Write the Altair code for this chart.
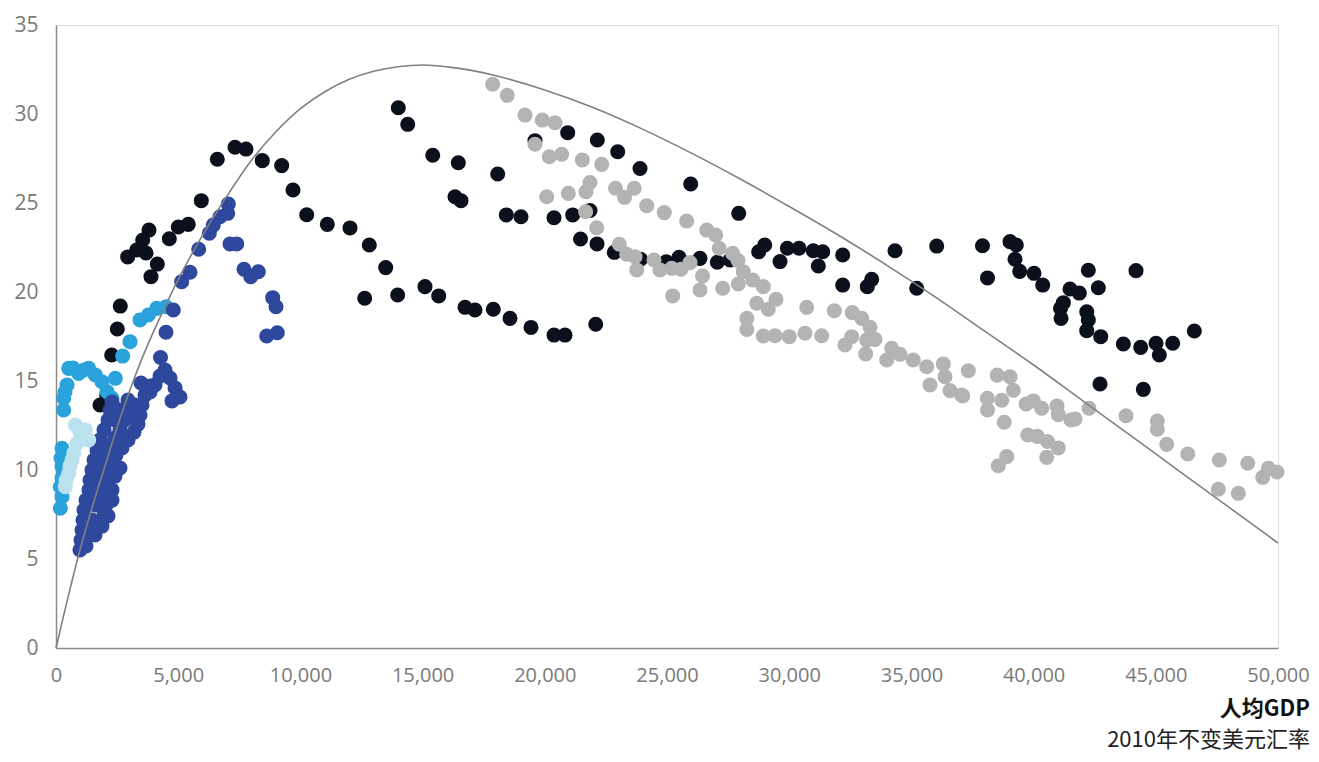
import altair as alt
import pandas as pd

# ---- data ----
black_x = [2279, 1800, 2075, 2508, 2631, 3887, 4145, 2934, 3302, 3683, 3547, 3805, 4636, 5004, 5413, 5945,
           6600, 7324, 7774, 8441, 9235, 9697, 10258, 11101, 12030, 12819, 13490, 12631, 13981, 15098, 15659,
           16735, 17144, 17893, 18576, 19435, 20377, 20827, 22083, 14006, 14391, 15414, 16461, 16326, 16571,
           18073, 18425, 19026, 20377, 21142, 21850, 20937, 22149, 22983, 23896, 25970, 27934, 19599, 21462,
           22137, 22844, 23916, 24971, 25491, 26350, 27058, 27578, 28752, 28998, 29624, 29923, 30402, 30986,
           31371, 31191, 32189, 32189, 33196, 33376, 34329, 35217, 36035, 37909, 38114, 39035, 39293, 39239,
           39431, 40017, 40373, 42239, 44190, 41490, 41871, 42649, 41218, 41101, 41122, 42174, 42239, 42174,
           42746, 43671, 44382, 45009, 45144, 45692, 46576, 42717, 44489]
black_y = [16.46, 13.65, 14.21, 17.92, 19.21, 20.86, 21.57, 21.97, 22.36, 22.19, 22.92, 23.48, 22.99, 23.65,
           23.80, 25.13, 27.46, 28.13, 28.03, 27.38, 27.10, 25.73, 24.34, 23.80, 23.60, 22.64, 21.37, 19.65,
           19.83, 20.30, 19.78, 19.14, 18.99, 19.03, 18.52, 18.01, 17.58, 17.58, 18.19, 30.35, 29.42, 27.68,
           27.26, 25.35, 25.13, 26.63, 24.33, 24.23, 24.17, 24.33, 24.58, 28.95, 28.54, 27.88, 26.94, 26.07,
           24.42, 28.50, 22.98, 22.70, 22.23, 21.84, 21.70, 21.95, 21.89, 21.67, 21.80, 22.26, 22.64, 21.71,
           22.46, 22.46, 22.32, 22.26, 21.46, 22.08, 20.39, 20.30, 20.71, 22.32, 20.21, 22.58, 22.60, 20.79,
           22.83, 22.64, 21.84, 21.16, 21.05, 20.39, 21.22, 21.20, 20.17, 19.94, 20.24, 19.40, 19.08, 18.52,
           18.89, 18.43, 17.83, 17.49, 17.08, 16.89, 17.12, 16.46, 17.12, 17.81, 14.83, 14.53]

grey_x = [17866, 18466, 19190, 19898, 20418, 19599, 20184, 20692, 21535, 22329, 21850, 21686, 20078, 20962,
          22893, 23658, 23261, 24169, 24890, 25806, 26625, 26993, 27136, 27688, 27905, 28122, 27918, 21672,
          22124, 23049, 23352, 23691, 23761, 24468, 24714, 25192, 25573, 25941, 26453, 26350, 25233, 27278,
          28266, 28266, 28506, 28940, 29460, 28670, 29145, 28940, 29419, 30004, 30647, 31330, 30716, 31845,
          32582, 32967, 33306, 32557, 32283, 33171, 33511, 33130, 34193, 34534, 33989, 35078, 35626, 36305,
          36375, 35761, 36579, 37099, 37329, 38511, 39035, 39170, 37058, 38106, 38696, 38114, 38798, 39690,
          39989, 40332, 40958, 41011, 41531, 41695, 42268, 43781, 45062, 45062, 45447, 46306, 47599, 48761,
          49604, 49375, 49960, 47558, 48377, 39763, 40152, 40569, 41011, 40536, 38899, 38556]
grey_y = [31.67, 31.05, 29.94, 29.66, 29.51, 28.30, 27.60, 27.74, 27.42, 27.17, 26.15, 25.63, 25.35, 25.54,
          25.83, 25.83, 25.32, 24.85, 24.46, 23.99, 23.48, 23.20, 22.46, 22.17, 21.77, 21.14, 20.45, 24.51,
          23.61, 22.68, 22.12, 21.98, 21.24, 21.80, 21.24, 21.33, 21.28, 21.65, 20.90, 20.11, 19.78, 20.21,
          18.52, 17.90, 20.67, 20.30, 19.59, 19.37, 19.03, 17.53, 17.54, 17.49, 17.68, 17.54, 19.14, 18.95,
          18.84, 18.52, 18.02, 17.49, 17.02, 17.30, 17.34, 16.52, 16.84, 16.50, 16.18, 16.18, 15.80, 15.96,
          15.24, 14.78, 14.46, 14.16, 15.58, 15.33, 15.24, 14.48, 14.21, 14.03, 13.92, 13.37, 12.68, 13.71,
          13.88, 13.47, 13.60, 13.11, 12.81, 12.87, 13.47, 13.05, 12.75, 12.29, 11.44, 10.90, 10.56, 10.38,
          10.10, 9.59, 9.89, 8.92, 8.69, 11.97, 11.89, 11.60, 11.24, 10.71, 10.75, 10.24]

mid_x = [520, 1338, 1608, 1882, 2087, 2292, 2427, 450, 315, 315, 929, 246, 246, 176, 246, 176, 2729, 3028,
         3437, 3777, 4120, 4501, 696, 1146, 368, 246, 205]
mid_y = [15.71, 15.71, 15.34, 14.96, 14.40, 14.03, 15.15, 14.78, 14.03, 13.37, 15.43, 11.22, 10.19, 9.06,
         8.50, 7.85, 16.40, 17.21, 18.43, 18.71, 19.08, 19.17, 15.73, 15.62, 14.38, 9.55, 10.67]

dark_x = [4276, 4501, 4800, 5143, 5483, 5839, 6273, 6436, 6710, 7025, 7050, 7120, 7394, 7692, 7967, 8278,
          8867, 9002, 8621, 9055,
          982, 1023, 1064, 1105, 1146, 1228, 1350, 1391, 1473, 1555, 1678, 1800, 1964, 2128, 2210, 2292,
          1596, 1800, 1964, 2046, 2046, 1964, 2046, 2210, 2455, 2701, 2946, 3192, 3355, 3437, 3519, 3642,
          3846, 4051, 4460, 4665, 4870, 5074, 4747, 1473, 1637, 1719, 1800, 1882, 2005, 2210, 2414, 2619,
          2823, 3028, 3233, 2946, 2619, 2414, 2619, 2414, 2292, 2292, 2128, 1882, 1473, 1228, 4256, 3846, 3478]
dark_y = [16.32, 17.74, 18.99, 20.58, 21.11, 22.40, 23.30, 23.76, 24.23, 24.42, 24.94, 22.70, 22.70, 21.28,
          20.86, 21.14, 19.68, 19.17, 17.53, 17.71,
          5.51, 6.07, 6.63, 7.19, 7.75, 8.31, 8.88, 9.44, 10.00, 10.56, 11.12, 11.69, 12.25, 12.81, 13.37,
          13.82, 6.35, 6.91, 7.47, 8.03, 8.60, 9.16, 9.72, 10.28, 10.84, 11.24, 11.69, 12.13, 12.58, 13.09,
          13.65, 14.21, 14.38, 14.78, 15.62, 15.17, 14.61, 14.10, 13.88, 7.19, 8.03, 8.76, 9.44, 10.11, 10.84,
          11.40, 11.80, 12.25, 12.81, 13.26, 13.65, 13.93, 13.37, 12.81, 10.11, 9.66, 8.88, 8.31, 7.42, 6.85,
          6.46, 5.73, 15.28, 14.72, 14.89]

light_x = [790, 1199, 1338, 859, 655, 520, 381, 724, 1133, 982, 573, 409]
light_y = [12.53, 12.25, 11.69, 11.50, 10.56, 9.81, 9.06, 10.94, 11.87, 12.13, 10.22, 9.44]

curve_x = [0, 500, 1000, 1500, 2000, 2500, 3000, 3500, 4000, 5000, 6000, 7000, 8000, 9000, 10000, 11000,
           12000, 13000, 14000, 15000, 16000, 17000, 18000, 20000, 22000, 24000, 26000, 28000, 30000, 32000,
           34000, 36000, 38000, 40000, 42000, 44000, 46000, 48000, 50000]
curve_y = [0, 2.9, 5.6, 8.0, 10.2, 12.4, 14.4, 16.2, 17.8, 20.7, 23.2, 25.4, 27.4, 29.0, 30.3, 31.25,
           31.95, 32.4, 32.65, 32.75, 32.65, 32.45, 32.15, 31.35, 30.35, 29.15, 27.8, 26.35, 24.8, 23.2,
           21.5, 19.7, 17.8, 15.9, 13.9, 11.9, 9.9, 7.9, 5.9]

series_names = ["s1", "s2", "s3", "s4", "s5"]
series_colors = ["#0b101c", "#b3b3b3", "#2aa3dc", "#2d489d", "#b9e1ee"]
x_ticks = [0, 5000, 10000, 15000, 20000, 25000, 30000, 35000, 40000, 45000, 50000]
y_ticks = [0, 5, 10, 15, 20, 25, 30, 35]
title_lines = ["人均GDP", "2010年不变美元汇率"]

frames = []
for name, xs, ys in zip(series_names,
                        [black_x, grey_x, mid_x, dark_x, light_x],
                        [black_y, grey_y, mid_y, dark_y, light_y]):
    frames.append(pd.DataFrame({"gdp": xs, "rate": ys, "series": name}))
points = pd.concat(frames, ignore_index=True)
points["order"] = range(len(points))
curve = pd.DataFrame({"gdp": curve_x, "rate": curve_y})

FONT = "Open Sans"
x_scale = alt.Scale(domain=[0, 50000], nice=False)
y_scale = alt.Scale(domain=[0, 35], nice=False)

x_axis = alt.Axis(values=x_ticks, format=",d", title=None, grid=False, ticks=False, tickSize=0,
                  labelFont=FONT, labelFontSize=20, labelColor="#7a7a7a", labelPadding=17,
                  domainColor="#8a8a8a", domainWidth=1.5, labelFlush=False)
y_axis = alt.Axis(values=y_ticks, title=None, grid=False, ticks=False, tickSize=0,
                  labelFont=FONT, labelFontSize=21, labelColor="#7a7a7a", labelPadding=18,
                  domainColor="#8a8a8a", domainWidth=1.5, labelFlush=False)

pts = alt.Chart(points).mark_circle(size=227, opacity=1).encode(
    x=alt.X("gdp:Q", scale=x_scale, axis=x_axis),
    y=alt.Y("rate:Q", scale=y_scale, axis=y_axis),
    color=alt.Color("series:N", scale=alt.Scale(domain=series_names, range=series_colors), legend=None),
    order=alt.Order("order:Q"),
)

line = alt.Chart(curve).mark_line(color="#808080", strokeWidth=1.6, interpolate="catmull-rom").encode(
    x=alt.X("gdp:Q", scale=x_scale),
    y=alt.Y("rate:Q", scale=y_scale),
)

t1 = alt.Chart(pd.DataFrame({"t": [title_lines[0]]})).mark_text(
    align="right", baseline="middle", font="Noto Sans CJK SC", fontSize=22, fontWeight="bold",
    color="#111111").encode(text="t:N", x=alt.value(1254), y=alt.value(684))
t2 = alt.Chart(pd.DataFrame({"t": [title_lines[1]]})).mark_text(
    align="right", baseline="middle", font="Noto Sans CJK SC", fontSize=22, fontWeight="normal",
    color="#222222").encode(text="t:N", x=alt.value(1254), y=alt.value(715))

chart = alt.layer(pts, line, t1, t2).properties(
    width=1222, height=623,
    padding={"left": 48, "top": 17, "right": 33, "bottom": 106},
    autosize=alt.AutoSizeParams(type="none"),
).configure_view(stroke=None).configure(background="white")

chart.save("out.html", embed_options={"renderer": "svg", "actions": False})
